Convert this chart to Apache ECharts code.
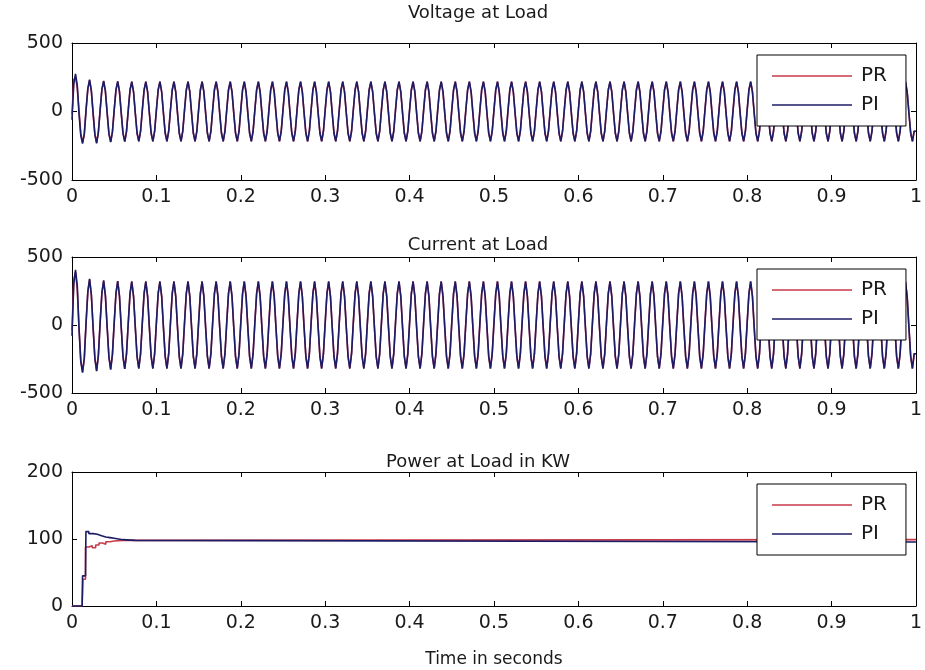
<!DOCTYPE html>
<html>
<head>
<meta charset="utf-8">
<script src="https://cdn.jsdelivr.net/npm/echarts@6/dist/echarts.min.js"></script>
<style>html,body{margin:0;padding:0;background:#fff}#c{width:925px;height:670px}</style>
</head>
<body>
<div id="c"></div>
<script>
// ---- data ----
const xTicks = ['0','0.1','0.2','0.3','0.4','0.5','0.6','0.7','0.8','0.9','1'];
const titles = ['Voltage at Load', 'Current at Load', 'Power at Load in KW'];
const xName = 'Time in seconds';
const seriesNames = ['PR', 'PI'];
// one sampled (zero-order hold) cycle of the 60 Hz waveform, 8 steps per cycle, normalized
const cycleShape = [0.05, 0.72, 1, 0.66, -0.05, -0.72, -1, -0.66];
const samplesPerSecond = 480;
// first (transient) cycle, step values
const voltFirstPR = [-20, 230, 255, 170, 10, -160, -225, -170];
const voltFirstPI = [-60, 200, 275, 190, -20, -175, -235, -160];
const currFirstPR = [-40, 330, 390, 260, -20, -260, -345, -250];
const currFirstPI = [-80, 300, 405, 290, -30, -270, -350, -240];
// peak amplitude of each following cycle (cycles 2..60)
const voltAmpPR = [228,222,220,218,218,218,218,218,218,218,218,218,218,218,218,218,218,218,218,218,218,218,218,218,218,218,218,218,218,218,218,218,218,218,218,218,218,218,218,218,218,218,218,218,218,218,218,218,218,218,218,218,218,218,218,218,218,218,218];
const voltAmpPI = [232,224,220,218,218,218,218,218,218,218,218,218,218,218,218,218,218,218,218,218,218,218,218,218,218,218,218,218,218,218,218,218,218,218,218,218,218,218,218,218,218,218,218,218,218,218,218,218,218,218,218,218,218,218,218,218,218,218,218];
const currAmpPR = [335,325,322,320,320,320,320,320,320,320,320,320,320,320,320,320,320,320,320,320,320,320,320,320,320,320,320,320,320,320,320,320,320,320,320,320,320,320,320,320,320,320,320,320,320,320,320,320,320,320,320,320,320,320,320,320,320,320,320];
const currAmpPI = [340,328,322,320,320,320,320,320,320,320,320,320,320,320,320,320,320,320,320,320,320,320,320,320,320,320,320,320,320,320,320,320,320,320,320,320,320,320,320,320,320,320,320,320,320,320,320,320,320,320,320,320,320,320,320,320,320,320,320];
// power (kW) step points [time, value]
const powerPR = [[0,0],[0.012,0],[0.013,40],[0.016,88],[0.02,90],[0.024,87],[0.028,91],[0.032,94],[0.036,92],[0.04,96],[0.045,97],[0.05,98],[0.06,99],[1,99]];
const powerPI = [[0,0],[0.012,0],[0.0125,45],[0.016,45],[0.0165,111],[0.02,108],[0.025,107],[0.03,105],[0.035,103],[0.04,102],[0.045,101],[0.05,99],[0.06,98],[0.075,98],[0.076,95.5],[1,95.5]];

// ---- build ----
function buildWave(first, amps) {
  const out = [];
  const nCycles = amps.length + 1;
  let v = 0;
  for (let c = 0; c < nCycles; c++) {
    for (let j = 0; j < cycleShape.length; j++) {
      const k = c * cycleShape.length + j;
      v = c === 0 ? first[j] : Math.round(amps[c - 1] * cycleShape[j]);
      out.push([k / samplesPerSecond, v]);
    }
  }
  out.push([1, v]);
  return out;
}
const voltPR = buildWave(voltFirstPR, voltAmpPR);
const voltPI = buildWave(voltFirstPI, voltAmpPI);
const currPR = buildWave(currFirstPR, currAmpPR);
const currPI = buildWave(currFirstPI, currAmpPI);

const colPR = '#c83a4a';
const colPI = '#1c1c66';
const FONT = 'DejaVu Sans, Liberation Sans, sans-serif';
const txt = '#1a1a1a';

const grids = [
  {left: 72, right: 7, top: 43, height: 137},
  {left: 72, right: 7, top: 257, height: 136},
  {left: 72, right: 7, top: 472, height: 134}
];
const titleCenters = [12, 244, 461];
const yRanges = [[-500, 500, 500], [-500, 500, 500], [0, 200, 100]];

const xAxes = [], yAxes = [], legends = [], titleArr = [];
grids.forEach((g, i) => {
  xAxes.push({
    type: 'value', gridIndex: i, min: 0, max: 1, interval: 0.1, position: 'bottom',
    axisLine: {onZero: false, lineStyle: {color: '#000', width: 1}},
    axisTick: {inside: true, length: 5, lineStyle: {color: '#000'}},
    axisLabel: {color: txt, fontFamily: FONT, fontSize: 19, margin: 8,
      formatter: v => xTicks[Math.round(v * 10)]},
    splitLine: {show: false},
    name: i === 2 ? xName : '', nameLocation: 'middle', nameGap: 45,
    nameTextStyle: {color: txt, fontFamily: FONT, fontSize: 17}
  });
  xAxes.push({
    type: 'value', gridIndex: i, min: 0, max: 1, interval: 0.1, position: 'top',
    axisLine: {onZero: false, lineStyle: {color: '#000', width: 1}},
    axisTick: {inside: true, length: 5, lineStyle: {color: '#000'}},
    axisLabel: {show: false}, splitLine: {show: false}
  });
  const r = yRanges[i];
  yAxes.push({
    type: 'value', gridIndex: i, min: r[0], max: r[1], interval: r[2], position: 'left',
    axisLine: {show: true, onZero: false, lineStyle: {color: '#000', width: 1}},
    axisTick: {show: true, inside: true, length: 5, lineStyle: {color: '#000'}},
    axisLabel: {color: txt, fontFamily: FONT, fontSize: 19, margin: 9},
    splitLine: {show: false}
  });
  yAxes.push({
    type: 'value', gridIndex: i, min: r[0], max: r[1], interval: r[2], position: 'right',
    axisLine: {show: true, onZero: false, lineStyle: {color: '#000', width: 1}},
    axisTick: {show: true, inside: true, length: 5, lineStyle: {color: '#000'}},
    axisLabel: {show: false}, splitLine: {show: false}
  });
  legends.push({
    orient: 'vertical', left: 757, top: g.top + 12,
    data: seriesNames.map(n => ({name: n, icon: 'rect'})),
    itemWidth: 80, itemHeight: 1.5, itemGap: 9,
    padding: [11, 19, 11, 15],
    backgroundColor: '#fff', borderColor: '#000', borderWidth: 1,
    textStyle: {color: txt, fontFamily: FONT, fontSize: 20, padding: [0, 0, 0, 4]},
    selectedMode: false
  });
  titleArr.push({
    text: titles[i], left: 473, textAlign: 'center', top: titleCenters[i] - 13,
    textStyle: {color: txt, fontFamily: FONT, fontSize: 18, fontWeight: 'normal'}
  });
});

function line(name, data, gi, color, step) {
  return {
    name, type: 'line', data, xAxisIndex: gi * 2, yAxisIndex: gi * 2,
    showSymbol: false, symbol: 'none', step: step, animation: false,
    lineStyle: {color, width: 1.6}, itemStyle: {color}, z: name === 'PI' ? 3 : 2
  };
}

const option = {
  backgroundColor: '#fff',
  animation: false,
  title: titleArr,
  grid: grids,
  xAxis: xAxes,
  yAxis: yAxes,
  legend: legends,
  series: [
    line('PR', voltPR, 0, colPR, 'end'),
    line('PI', voltPI, 0, colPI, 'end'),
    line('PR', currPR, 1, colPR, 'end'),
    line('PI', currPI, 1, colPI, 'end'),
    line('PR', powerPR, 2, colPR, 'end'),
    line('PI', powerPI, 2, colPI, 'end')
  ]
};
const chart = echarts.init(document.getElementById('c'), null, {renderer: 'canvas'});
chart.setOption(option);
</script>
</body>
</html>
